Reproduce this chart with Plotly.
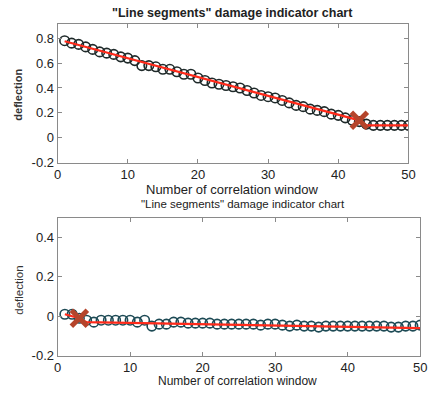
import plotly.graph_objects as go

# ---- data ----
x_win = list(range(1, 51))
top_defl = [0.78, 0.76, 0.75, 0.73, 0.71, 0.69, 0.68, 0.67, 0.65, 0.64,
            0.62, 0.58, 0.58, 0.57, 0.55, 0.55, 0.53, 0.51, 0.51, 0.48,
            0.46, 0.44, 0.43, 0.42, 0.41, 0.40, 0.38, 0.36, 0.34, 0.33,
            0.32, 0.30, 0.28, 0.26, 0.25, 0.23, 0.22, 0.21, 0.19, 0.18,
            0.16, 0.14, 0.13, 0.11, 0.10, 0.10, 0.10, 0.10, 0.10, 0.10]
top_fit_x = [1, 43, 44, 50]
top_fit_y = [0.775, 0.14, 0.10, 0.10]
top_damage_x = [43]
top_damage_y = [0.14]

bot_defl = [0.01, 0.01, -0.01, -0.02, -0.03, -0.02, -0.02, -0.02, -0.02, -0.02,
            -0.03, -0.02, -0.05, -0.04, -0.04, -0.03, -0.03, -0.035, -0.035, -0.035,
            -0.035, -0.04, -0.04, -0.04, -0.04, -0.04, -0.04, -0.045, -0.04, -0.04,
            -0.045, -0.05, -0.045, -0.05, -0.05, -0.055, -0.05, -0.05, -0.05, -0.05,
            -0.05, -0.05, -0.05, -0.05, -0.05, -0.055, -0.055, -0.05, -0.05, -0.045]
bot_fit_x = [1, 3, 4, 50]
bot_fit_y = [0.01, -0.01, -0.03, -0.06]
bot_damage_x = [3]
bot_damage_y = [-0.01]

x_ticks = [0, 10, 20, 30, 40, 50]
top_y_ticks = [-0.2, 0, 0.2, 0.4, 0.6, 0.8]
bot_y_ticks = [-0.2, 0, 0.2, 0.4]

title_text = '"Line segments" damage indicator chart'
x_title = "Number of correlation window"
y_title = "deflection"

FONT = "Liberation Sans, Arial, sans-serif"
fig = go.Figure()

def add_panel(xa, ya, defl, fx, fy, dx, dy, circ_col):
    fig.add_trace(go.Scatter(x=x_win, y=defl, mode="markers", xaxis=xa, yaxis=ya,
                             marker=dict(symbol="circle-open", size=9.5,
                                         color=circ_col, line=dict(width=1.6)),
                             showlegend=False, hoverinfo="skip"))
    fig.add_trace(go.Scatter(x=fx, y=fy, mode="lines", xaxis=xa, yaxis=ya,
                             line=dict(color="#ff2a1a", width=2.2), showlegend=False,
                             hoverinfo="skip"))
    fig.add_trace(go.Scatter(x=dx, y=dy, mode="markers", xaxis=xa, yaxis=ya,
                             marker=dict(symbol="x-thin-open", size=16,
                                         color="#b5442b", line=dict(width=5, color="#b5442b")),
                             showlegend=False, hoverinfo="skip"))

add_panel("x", "y", top_defl, top_fit_x, top_fit_y, top_damage_x, top_damage_y, "#1f2a2a")
add_panel("x2", "y2", bot_defl, bot_fit_x, bot_fit_y, bot_damage_x, bot_damage_y, "#1d4a55")

W, H = 433, 399
axis_common = dict(showgrid=False, zeroline=False, showline=True, linecolor="#8a8a8a",
                   linewidth=1, mirror="ticks", ticks="inside", ticklen=4,
                   tickcolor="#8a8a8a", tickfont=dict(family=FONT, size=13, color="#222"))

fig.update_layout(
    width=W, height=H, margin=dict(l=0, r=0, t=0, b=0),
    plot_bgcolor="white", paper_bgcolor="white",
    xaxis=dict(domain=[55 / W, 415 / W], range=[0, 50], tickvals=x_ticks,
               anchor="y", **axis_common),
    yaxis=dict(domain=[1 - 166 / H, 1 - 25 / H], range=[-0.2, 0.91], tickvals=top_y_ticks,
               ticktext=["-0.2", "0", "0.2", "0.4", "0.6", "0.8"], anchor="x", **axis_common),
    xaxis2=dict(domain=[55 / W, 427 / W], range=[0, 50], tickvals=x_ticks,
                anchor="y2", **axis_common),
    yaxis2=dict(domain=[1 - 363 / H, 1 - 222 / H], range=[-0.2, 0.5], tickvals=bot_y_ticks,
                ticktext=["-0.2", "0", "0.2", "0.4"], anchor="x2", **axis_common),
    annotations=[
        dict(text="<b>" + title_text + "</b>", x=234 / W, y=1 - 13 / H, xref="paper",
             yref="paper", showarrow=False, font=dict(family=FONT, size=12.5, color="#222"),
             xanchor="center", yanchor="middle"),
        dict(text=x_title, x=234 / W, y=1 - 193 / H, xref="paper", yref="paper",
             showarrow=False, font=dict(family=FONT, size=13, color="#222"),
             xanchor="center", yanchor="middle"),
        dict(text="<b>" + y_title + "</b>", x=14 / W, y=1 - 97 / H, xref="paper",
             yref="paper", showarrow=False, textangle=-90,
             font=dict(family=FONT, size=11, color="#333"),
             xanchor="center", yanchor="middle"),
        dict(text=title_text, x=245 / W, y=1 - 208 / H, xref="paper", yref="paper",
             showarrow=False, font=dict(family=FONT, size=11.5, color="#222"),
             xanchor="center", yanchor="middle"),
        dict(text=x_title, x=240 / W, y=1 - 389 / H, xref="paper", yref="paper",
             showarrow=False, font=dict(family=FONT, size=12, color="#222"),
             xanchor="center", yanchor="middle"),
        dict(text=y_title, x=15 / W, y=1 - 296 / H, xref="paper", yref="paper",
             showarrow=False, textangle=-90, font=dict(family=FONT, size=11.5, color="#333"),
             xanchor="center", yanchor="middle"),
    ],
)

fig.write_html("out.html", config={"displayModeBar": False},
               post_script="document.body.style.margin='0';document.body.style.overflow='hidden';")
